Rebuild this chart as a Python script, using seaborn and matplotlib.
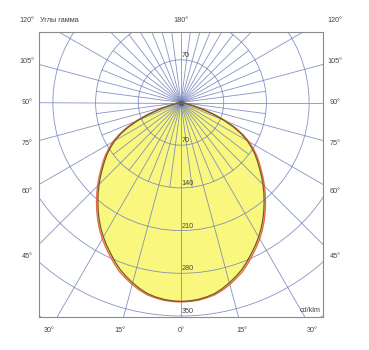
import numpy as np
import pandas as pd
import matplotlib
matplotlib.use("Agg")
import matplotlib.pyplot as plt
from matplotlib.patches import Circle
import seaborn as sns

# ---- data (cd/klm) ----
gamma_deg = [0, 2.5, 5, 7.5, 10, 12.5, 15, 17.5, 20, 22.5, 25, 27.5, 30, 32.5, 35, 37.5,
             40, 42.5, 45, 47.5, 50, 52.5, 55, 57.5, 60, 62.5, 65, 67.5, 70, 72.5, 75,
             77.5, 80, 82.5, 85, 87.5, 90]
i_c0_c180 = [326, 325.5, 324, 321.5, 318, 312.5, 306, 299, 291.5, 282.5, 273, 264, 254.5,
             244.5, 234, 223, 212, 201, 190, 179, 168, 158, 148, 137, 125.5, 111.5, 95,
             76, 56, 36, 19, 9, 4, 1.5, 0, 0, 0]
i_c90_c270 = [327, 326.5, 325.5, 323, 320, 315, 309, 302, 295, 286, 276.5, 267.5, 258,
              248, 237.5, 226.5, 215.5, 204.5, 193.5, 182.5, 171.5, 161.5, 151.5, 140.5,
              129, 115, 99, 80, 60, 40, 22, 11, 5, 2, 0, 0, 0]
ring_values = [70, 140, 210, 280, 350]
edge_angles = [0, 15, 30, 45, 60, 75, 90, 105, 120]
unit_label = "cd/klm"
title_label = "Углы гамма"

sns.set_style("white")
plt.rcParams["font.family"] = ["Liberation Sans", "DejaVu Sans"]

W, H = 369, 350
S = 0.61                      # px per cd
cx, cy = 181, 102.5           # center in px (y from top)
L, R, T, B = 39, 323, 32, 317

fig = plt.figure(figsize=(W / 100, H / 100), dpi=100)
ax = fig.add_axes([L / W, (H - B) / H, (R - L) / W, (B - T) / H])
xmin, xmax = -(cx - L) / S, (R - cx) / S
ymin, ymax = -(B - cy) / S, (cy - T) / S
ax.set_xlim(xmin, xmax)
ax.set_ylim(ymin, ymax)
ax.set_xticks([]); ax.set_yticks([])
for s in ax.spines.values():
    s.set_color("#8a8a8a"); s.set_linewidth(0.8)

def curve(vals):
    g = np.array(gamma_deg, float)
    v = np.array(vals, float)
    gg = np.concatenate([-g[::-1], g[1:]])
    vv = np.concatenate([v[::-1], v[1:]])
    t = np.radians(gg)
    return pd.DataFrame({"x": vv * np.sin(t), "y": -vv * np.cos(t)})

d0 = curve(i_c0_c180)
d90 = curve(i_c90_c270)

# fill
ax.fill(d90["x"], d90["y"], color="#faf77e", zorder=1, lw=0)

# grid: arcs
gcol = "#6f80b8"
for r in ring_values + [420]:
    ax.add_patch(Circle((0, 0), r, fill=False, ec=gcol, lw=0.6, alpha=0.85, zorder=2))
# spokes
BIG = 1000
for a in np.arange(0, 360, 15):
    t = np.radians(a)
    ax.plot([0, BIG * np.sin(t)], [0, -BIG * np.cos(t)], color=gcol, lw=0.6, alpha=0.85, zorder=2)
for a in np.arange(7.5, 360, 15):
    t = np.radians(a)
    ax.plot([0, 140 * np.sin(t)], [0, -140 * np.cos(t)], color=gcol, lw=0.6, alpha=0.85, zorder=2)
ax.plot([0], [0], "o", ms=3, color="#2b4fb0", alpha=0.7, zorder=3)

# curves
sns.lineplot(data=d90, x="x", y="y", sort=False, estimator=None, color="#ea6a4e", lw=1.0, ax=ax, zorder=4)
sns.lineplot(data=d0, x="x", y="y", sort=False, estimator=None, color="#6e5c2a", lw=0.9, ax=ax, zorder=5)
ax.set_xlabel(""); ax.set_ylabel("")

fs = 5.2
tc = "#444444"
# ring labels
ax.text(0.5, 70 + 1.5, "70", fontsize=fs, color=tc, ha="left", va="bottom", zorder=6)
for r in ring_values:
    ax.text(0.5, -r + 1.5, str(r), fontsize=fs, color=tc, ha="left", va="bottom", zorder=6)

# edge angle labels (placed on a rectangle around the box)
hx = 154 / S
by = -(330 - cy) / S
ty = (cy - 20) / S
def place(theta, side):
    t = np.radians(theta)
    dx, dy = side * np.sin(t), -np.cos(t)
    if abs(dx) > 1e-9:
        k = hx / abs(dx)
        y = k * dy
        if y >= by:
            return side * hx, min(y, ty)
    return by / dy * dx, by
for a in edge_angles:
    for side in ([1] if a == 0 else [-1, 1]):
        x, y = place(a, side)
        ax.text(x, y, f"{a}°", fontsize=fs, color=tc, ha="center", va="center", clip_on=False)
ax.text(0, ty, "180°", fontsize=fs, color=tc, ha="center", va="center", clip_on=False)
ax.text(xmin + 1 / S, ty, title_label, fontsize=fs, color=tc, ha="left", va="center", clip_on=False)
ax.text((321 - cx) / S, -(311 - cy) / S, unit_label, fontsize=fs, color=tc, ha="right", va="center", zorder=6)

fig.savefig("out.png", dpi=100)
